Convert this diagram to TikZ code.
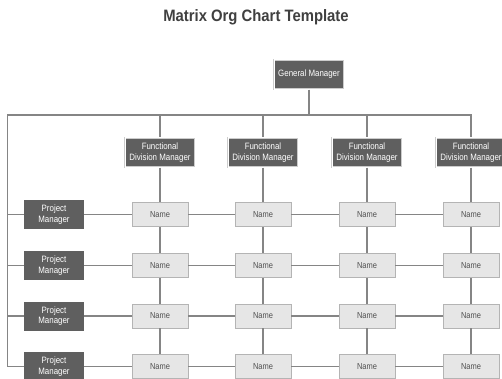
\documentclass[tikz,border=0pt]{standalone}
\usepackage{fontspec}
\setmainfont{Liberation Sans}
\newfontfamily\narrowfont{Liberation Sans}[FakeStretch=0.86]
\newfontfamily\titlefont{Liberation Sans}[FakeStretch=0.9]
\definecolor{boxdark}{HTML}{5F5F5F}
\definecolor{boxlight}{HTML}{E6E6E6}
\definecolor{boxedge}{HTML}{B4B4B4}
\definecolor{linkgray}{HTML}{858585}
\definecolor{titlegray}{HTML}{404040}
\definecolor{nametext}{HTML}{505050}
\begin{document}
\begin{tikzpicture}[x=1pt,y=-1pt,
  link/.style={draw=linkgray,line width=1.4pt},
  headbox/.style={fill=boxdark,draw=gray!40,double=white,double distance=0.9pt,
    line width=0.6pt,text=white,align=center,inner sep=0pt,
    font=\narrowfont\fontsize{9.2}{10.7}\selectfont,
    minimum width=70pt,minimum height=29.5pt},
  pmbox/.style={fill=boxdark,text=white,align=center,inner sep=0pt,
    font=\narrowfont\fontsize{9.2}{10.7}\selectfont,
    minimum width=60pt,minimum height=29pt},
  namebox/.style={fill=boxlight,draw=boxedge,line width=0.8pt,text=nametext,
    inner sep=0pt,font=\narrowfont\fontsize{8.7}{10}\selectfont,
    minimum width=56pt,minimum height=24pt}]
\clip (0,0) rectangle (502,378);
\fill[white] (0,0) rectangle (502,378);

% title
\node[font=\titlefont\fontsize{16.5}{19}\selectfont\bfseries,text=titlegray] (title) at (256,17.5) {Matrix Org Chart Template};

% top of the hierarchy
\node[headbox] (gm) at (309,74.5) {General Manager};
\foreach \i/\x in {1/160,2/263,3/367,4/471}
  \node[headbox] (fdm-\i) at (\x,152.5) {Functional\\Division Manager};

% project managers and the grid of names
\foreach \j/\y in {1/214.5,2/265.5,3/316,4/366.5}{
  \node[pmbox] (pm-\j) at (54,\y) {Project\\Manager};
  \foreach \i/\x in {1/160,2/263,3/367,4/471}
    \node[namebox] (n-\i-\j) at (\x,\y) {Name};
}

% bus lines
\coordinate (bus) at (309,115);
\coordinate (busL) at (7.5,115);
\draw[link] (gm.south) -- (bus);
\draw[link] (pm-4.west) -- (busL |- pm-4) -- (busL) -- (fdm-4 |- busL) -- (fdm-4.north);
\foreach \i in {1,2,3}
  \draw[link] (fdm-\i |- busL) -- (fdm-\i.north);
\foreach \j in {1,2,3}
  \draw[link] (busL |- pm-\j) -- (pm-\j.west);

% columns
\foreach \i in {1,2,3,4}{
  \draw[link] (fdm-\i.south) -- (n-\i-1.north);
  \draw[link] (n-\i-1.south) -- (n-\i-2.north);
  \draw[link] (n-\i-2.south) -- (n-\i-3.north);
  \draw[link] (n-\i-3.south) -- (n-\i-4.north);
}

% rows
\foreach \j in {1,2,3,4}{
  \draw[link] (pm-\j.east) -- (n-1-\j.west);
  \draw[link] (n-1-\j.east) -- (n-2-\j.west);
  \draw[link] (n-2-\j.east) -- (n-3-\j.west);
  \draw[link] (n-3-\j.east) -- (n-4-\j.west);
}
\end{tikzpicture}
\end{document}
